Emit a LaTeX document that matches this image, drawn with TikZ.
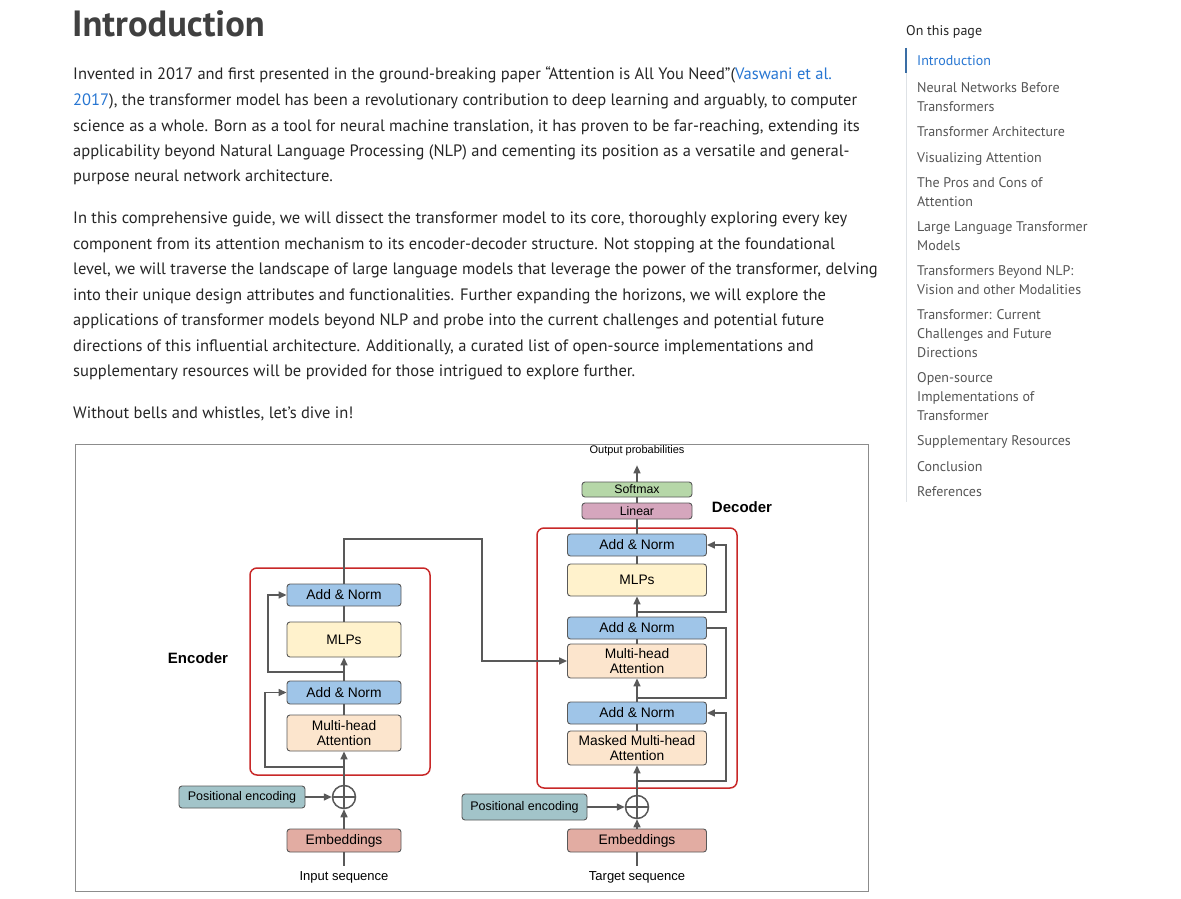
\documentclass[tikz,border=0pt]{standalone}
\usepackage{fontspec}
\setmainfont{PT Sans}
\newfontfamily\diagfont{Liberation Sans}
\usetikzlibrary{arrows.meta,positioning}
\definecolor{bodytext}{RGB}{38,38,38}
\definecolor{headtext}{RGB}{64,64,64}
\definecolor{toctext}{RGB}{85,85,85}
\definecolor{linkblue}{RGB}{39,118,210}
\definecolor{tocrule}{RGB}{222,226,230}
\definecolor{tocactive}{RGB}{58,110,165}
\definecolor{addnorm}{RGB}{159,197,232}
\definecolor{mlpfill}{RGB}{255,242,204}
\definecolor{attnfill}{RGB}{252,229,205}
\definecolor{posfill}{RGB}{162,196,201}
\definecolor{embfill}{RGB}{226,172,162}
\definecolor{softfill}{RGB}{182,215,168}
\definecolor{linfill}{RGB}{213,166,189}
\definecolor{boxline}{RGB}{89,89,89}
\definecolor{framered}{RGB}{200,40,40}
\definecolor{figborder}{RGB}{140,140,140}

\begin{document}
\begin{tikzpicture}[x=1pt,y=-1pt,
  every node/.style={inner sep=0pt},
  txt/.style={anchor=base west,font=\fontsize{16.5}{20}\selectfont,text=bodytext},
  toc/.style={anchor=base west,align=left,font=\fontsize{14}{18.6}\selectfont,text=toctext},
  blk/.style={draw=boxline,line width=0.9pt,rounded corners=3pt,align=center,text=black,
    font=\diagfont\fontsize{13.8}{15.8}\selectfont},
  encblk/.style={blk,minimum width=114pt},
  decblk/.style={blk,minimum width=139pt},
  plus/.style={circle,draw=boxline,line width=1.5pt,minimum size=23pt},
  arr/.style={draw=boxline,line width=1.5pt,-{Triangle[length=8pt,width=7pt]}},
  link/.style={draw=boxline,line width=1.5pt},
  frame/.style={draw=framered,line width=1.5pt,rounded corners=7pt},
  lbl/.style={font=\diagfont\fontsize{13}{15}\selectfont,text=black}]

  \fill[white] (0,0) rectangle (1181,899);
  \useasboundingbox (0,0) rectangle (1181,899);

  % page text
  \node[anchor=base west,font=\bfseries\fontsize{36.5}{40}\selectfont,text=headtext] (title) at (72,37) {Introduction};

  \node[txt] (p1a) at (73,80)  {Invented in 2017 and first presented in the ground-breaking paper “Attention is All You Need”(\textcolor{linkblue}{Vaswani et al.}};
  \node[txt] (p1b) at (73,105) {\textcolor{linkblue}{2017}), the transformer model has been a revolutionary contribution to deep learning and arguably, to computer};
  \node[txt] (p1c) at (73,131) {science as a whole. Born as a tool for neural machine translation, it has proven to be far-reaching, extending its};
  \node[txt] (p1d) at (73,156) {applicability beyond Natural Language Processing (NLP) and cementing its position as a versatile and general-};
  \node[txt] (p1e) at (73,181) {purpose neural network architecture.};

  \node[txt] (p2a) at (73,223) {In this comprehensive guide, we will dissect the transformer model to its core, thoroughly exploring every key};
  \node[txt] (p2b) at (73,249) {component from its attention mechanism to its encoder-decoder structure. Not stopping at the foundational};
  \node[txt] (p2c) at (73,274) {level, we will traverse the landscape of large language models that leverage the power of the transformer, delving};
  \node[txt] (p2d) at (73,300) {into their unique design attributes and functionalities. Further expanding the horizons, we will explore the};
  \node[txt] (p2e) at (73,325) {applications of transformer models beyond NLP and probe into the current challenges and potential future};
  \node[txt] (p2f) at (73,351) {directions of this influential architecture. Additionally, a curated list of open-source implementations and};
  \node[txt] (p2g) at (73,376) {supplementary resources will be provided for those intrigued to explore further.};

  \node[txt] (p3) at (73,418) {Without bells and whistles, let’s dive in!};

  % table of contents (multi-line items sit on their last line)
  \node[anchor=base west,font=\fontsize{14}{17}\selectfont,text=bodytext] (tocHead) at (906,36) {On this page};
  \draw[tocrule,line width=1pt] (906,48) -- (906,502);
  \draw[tocactive,line width=1.2pt] (906,48) -- (906,73);
  \node[toc,text=linkblue] (toc1) at (917,66) {Introduction};
  \node[toc] (toc2)  at (917,111) {Neural Networks Before\\Transformers};
  \node[toc] (toc3)  at (917,136) {Transformer Architecture};
  \node[toc] (toc4)  at (917,162) {Visualizing Attention};
  \node[toc] (toc5)  at (917,206) {The Pros and Cons of\\Attention};
  \node[toc] (toc6)  at (917,250) {Large Language Transformer\\Models};
  \node[toc] (toc7)  at (917,294) {Transformers Beyond NLP:\\Vision and other Modalities};
  \node[toc] (toc8)  at (917,357) {Transformer: Current\\Challenges and Future\\Directions};
  \node[toc] (toc9)  at (917,420) {Open-source\\Implementations of\\Transformer};
  \node[toc] (toc10) at (917,445) {Supplementary Resources};
  \node[toc] (toc11) at (917,471) {Conclusion};
  \node[toc] (toc12) at (917,496) {References};

  % figure
  \draw[figborder,line width=1pt] (75,444) rectangle (868,891);
  \draw[frame] (250,568) rectangle (430,775);
  \draw[frame] (537,528) rectangle (737,788);
  \node[font=\diagfont\bfseries\fontsize{15}{17}\selectfont] (encLabel) at (198,658) {Encoder};
  \node[font=\diagfont\bfseries\fontsize{15}{17}\selectfont] (decLabel) at (742,507) {Decoder};

  % encoder
  \node[encblk,fill=addnorm,minimum height=22pt] (encAN2) at (344,595) {Add \& Norm};
  \node[encblk,fill=mlpfill,minimum height=35pt] (encMLP) at (344,639.5) {MLPs};
  \node[encblk,fill=addnorm,minimum height=23pt] (encAN1) at (344,692.5) {Add \& Norm};
  \node[encblk,fill=attnfill,minimum height=36pt] (encMHA) at (344,733) {Multi-head\\Attention};
  \node[blk,fill=posfill,minimum width=126pt,minimum height=22pt,font=\diagfont\fontsize{12.5}{14}\selectfont] (encPE) at (242,797) {Positional encoding};
  \node[plus] (encAdd) at (344,797) {};
  \node[encblk,fill=embfill,minimum height=23pt] (encEmb) at (344,840.5) {Embeddings};
  \node[lbl] (encIn) at (344,877) {Input sequence};

  % decoder
  \node[lbl,font=\diagfont\fontsize{11}{13}\selectfont] (decOut) at (637,451) {Output probabilities};
  \node[blk,fill=softfill,minimum width=110pt,minimum height=15pt,font=\diagfont\fontsize{12.3}{13}\selectfont] (decSoft) at (637,489.5) {Softmax};
  \node[blk,fill=linfill,minimum width=110pt,minimum height=16pt,font=\diagfont\fontsize{12.3}{13}\selectfont] (decLin) at (637,511) {Linear};
  \node[decblk,fill=addnorm,minimum height=22pt] (decAN3) at (637,545) {Add \& Norm};
  \node[decblk,fill=mlpfill,minimum height=32pt] (decMLP) at (637,580) {MLPs};
  \node[decblk,fill=addnorm,minimum height=22pt] (decAN2) at (637,628) {Add \& Norm};
  \node[decblk,fill=attnfill,minimum height=34pt] (decMHA) at (637,661) {Multi-head\\Attention};
  \node[decblk,fill=addnorm,minimum height=22pt] (decAN1) at (637,713) {Add \& Norm};
  \node[decblk,fill=attnfill,minimum height=34pt] (decMMHA) at (637,748) {Masked Multi-head\\Attention};
  \node[blk,fill=posfill,minimum width=125pt,minimum height=26pt,font=\diagfont\fontsize{12.5}{14}\selectfont] (decPE) at (524.5,807) {Positional encoding};
  \node[plus] (decAdd) at (637,807) {};
  \node[decblk,fill=embfill,minimum height=23pt] (decEmb) at (637,840.5) {Embeddings};
  \node[lbl] (decIn) at (637,877) {Target sequence};

  \draw[link] (encAdd.north) -- (encAdd.south) (encAdd.west) -- (encAdd.east);
  \draw[link] (decAdd.north) -- (decAdd.south) (decAdd.west) -- (decAdd.east);

  % encoder flow
  \draw[link,shorten <=5pt] (encIn) -- (encEmb);
  \draw[arr] (encEmb) -- (encAdd);
  \draw[arr] (encPE) -- (encAdd);
  \draw[arr] (encAdd) -- (encMHA);
  \draw[link] (encMHA) -- (encAN1);
  \draw[arr] (encAN1) -- (encMLP);
  \draw[link] (encMLP) -- (encAN2);
  \coordinate (encR1) at (344,767);
  \coordinate (encR2) at (344,672);
  \draw[arr] (encR1) -- ++(-79,0) |- (encAN1.west);
  \draw[arr] (encR2) -- ++(-76,0) |- (encAN2.west);
  \coordinate (cross) at (482,539);
  \draw[arr] (encAN2.north) |- (cross) |- (decMHA.west);

  % decoder flow
  \draw[link,shorten <=5pt] (decIn) -- (decEmb);
  \draw[arr] (decEmb) -- (decAdd);
  \draw[arr] (decPE) -- (decAdd);
  \draw[arr] (decAdd) -- (decMMHA);
  \draw[link] (decMMHA) -- (decAN1);
  \draw[arr] (decAN1) -- (decMHA);
  \draw[link] (decMHA) -- (decAN2);
  \draw[arr] (decAN2) -- (decMLP);
  \draw[link] (decMLP) -- (decAN3);
  \draw[link] (decAN3) -- (decLin);
  \draw[link] (decLin) -- (decSoft);
  \draw[arr,shorten >=9pt] (decSoft) -- (decOut);
  \coordinate (decR1) at (637,781);
  \coordinate (decR2) at (637,698);
  \coordinate (decR3) at (637,612);
  \draw[arr] (decR1) -- ++(89,0) |- (decAN1.east);
  \draw[link] (decR2) -- ++(89,0) |- (decAN2.east);
  \draw[arr] (decR3) -- ++(89,0) |- (decAN3.east);
\end{tikzpicture}
\end{document}
